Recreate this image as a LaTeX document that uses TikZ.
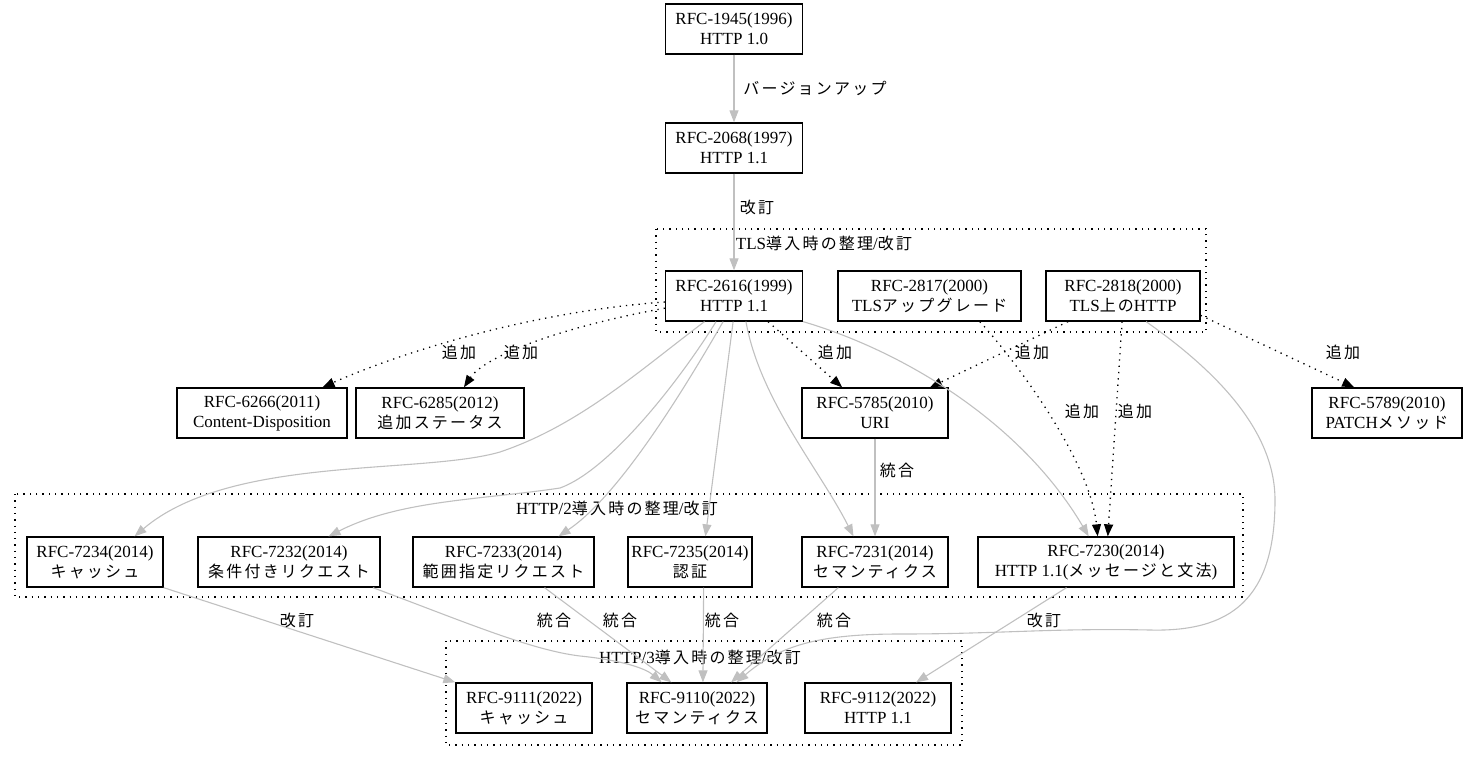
\documentclass[tikz,border=0pt]{standalone}
\usepackage{fontspec}
\setmainfont{Liberation Serif}
\newfontfamily\jp[Scale=0.94,LetterSpace=14]{Noto Sans CJK JP}
\usetikzlibrary{arrows.meta}
\definecolor{edgegray}{HTML}{C0C0C0}

\begin{document}
\begin{tikzpicture}[
  x=1pt, y=-1pt,
  font=\fontsize{17}{20}\selectfont,
  rfc/.style={draw,line width=1.3pt,minimum height=50pt,inner sep=0pt,align=center},
  note/.style={inner sep=1pt},
  cluster/.style={line width=1.3pt,dash pattern=on 1.3pt off 5pt},
  revise/.style={draw=edgegray,line width=1.1pt,-{Triangle[length=12pt,width=9pt]}},
  extend/.style={draw=black,line width=1.3pt,dash pattern=on 1.3pt off 5pt,-{Triangle[length=12pt,width=9pt]}}
]
  \useasboundingbox (0,0) rectangle (1469,760);

  % groups
  \draw[cluster] (656,229) rectangle (1206,332);
  \node[note] (tls-title) at (824,243) {TLS{\jp 導入時の整理}/{\jp 改訂}};
  \draw[cluster] (15,494) rectangle (1243,597);
  \node[note] (h2-title) at (617,508) {HTTP/2{\jp 導入時の整理}/{\jp 改訂}};
  \draw[cluster] (446,641) rectangle (962,745);
  \node[note] (h3-title) at (700,657) {HTTP/3{\jp 導入時の整理}/{\jp 改訂}};

  % documents
  \node[rfc,minimum width=137pt] (rfc-1945) at (734,29) {RFC-1945(1996)\\HTTP 1.0};
  \node[rfc,minimum width=137pt] (rfc-2068) at (734,148) {RFC-2068(1997)\\HTTP 1.1};
  \node[rfc,minimum width=137pt] (rfc-2616) at (734,296) {RFC-2616(1999)\\HTTP 1.1};
  \node[rfc,minimum width=183pt] (rfc-2817) at (929.5,296) {RFC-2817(2000)\\TLS{\jp アップグレード}};
  \node[rfc,minimum width=154pt] (rfc-2818) at (1123,296) {RFC-2818(2000)\\TLS{\jp 上の}HTTP};

  \node[rfc,minimum width=170pt] (rfc-6266) at (262,413) {RFC-6266(2011)\\Content-Disposition};
  \node[rfc,minimum width=168pt] (rfc-6285) at (440,413) {RFC-6285(2012)\\{\jp 追加ステータス}};
  \node[rfc,minimum width=146pt] (rfc-5785) at (875,413) {RFC-5785(2010)\\URI};
  \node[rfc,minimum width=150pt] (rfc-5789) at (1387,413) {RFC-5789(2010)\\PATCH{\jp メソッド}};

  \node[rfc,minimum width=136pt] (rfc-7234) at (95,562) {RFC-7234(2014)\\{\jp キャッシュ}};
  \node[rfc,minimum width=182pt] (rfc-7232) at (289,562) {RFC-7232(2014)\\{\jp 条件付きリクエスト}};
  \node[rfc,minimum width=181pt] (rfc-7233) at (503.5,562) {RFC-7233(2014)\\{\jp 範囲指定リクエスト}};
  \node[rfc,minimum width=124pt] (rfc-7235) at (690,562) {RFC-7235(2014)\\{\jp 認証}};
  \node[rfc,minimum width=146pt] (rfc-7231) at (875,562) {RFC-7231(2014)\\{\jp セマンティクス}};
  \node[rfc,minimum width=256pt] (rfc-7230) at (1106,562) {RFC-7230(2014)\\HTTP 1.1({\jp メッセージと文法})};

  \node[rfc,minimum width=136pt] (rfc-9111) at (524,708) {RFC-9111(2022)\\{\jp キャッシュ}};
  \node[rfc,minimum width=140pt] (rfc-9110) at (697,708) {RFC-9110(2022)\\{\jp セマンティクス}};
  \node[rfc,minimum width=146pt] (rfc-9112) at (878,708) {RFC-9112(2022)\\HTTP 1.1};

  % revisions
  \draw[revise] (rfc-1945) -- (rfc-2068);
  \node[note] (lbl-up) at (815,88) {{\jp バージョンアップ}};
  \draw[revise] (rfc-2068) -- (rfc-2616);
  \node[note] (lbl-rev1) at (757,207) {{\jp 改訂}};

  % additions
  \draw[extend] (rfc-2616.185) .. controls +(-120,8) and +(90,-40) .. (rfc-6266.23);
  \node[note] (lbl-add1) at (459,352) {{\jp 追加}};
  \draw[extend] (rfc-2616.190) .. controls +(-110,20) and +(20,-30) .. (rfc-6285.47);
  \node[note] (lbl-add2) at (521,352) {{\jp 追加}};
  \draw[extend] (rfc-2616.-37) -- (rfc-5785.142);
  \node[note] (lbl-add3) at (835,352) {{\jp 追加}};
  \draw[extend] (rfc-2818.-155) -- (rfc-5785.25);
  \node[note] (lbl-add4) at (1032,352) {{\jp 追加}};
  \draw[extend] (rfc-2818.-14) -- (rfc-5789.142);
  \node[note] (lbl-add5) at (1343,352) {{\jp 追加}};
  \draw[extend] (rfc-2817.-27) .. controls (1015,360) and (1090,460) .. (rfc-7230.108);
  \node[note] (lbl-add6) at (1082,411) {{\jp 追加}};
  \draw[extend] (rfc-2818.-92) -- (rfc-7230.86);
  \node[note] (lbl-add7) at (1135,411) {{\jp 追加}};

  % HTTP/2 split
  \draw[revise] (rfc-2616.-139) .. controls (640,370) and (580,425) .. (500,452)
    .. controls (420,475) and (230,455) .. (rfc-7234.33);
  \draw[revise] (rfc-2616.-125) .. controls (680,380) and (610,470) .. (560,488)
    .. controls (480,500) and (400,500) .. (rfc-7232.33);
  \draw[revise] (rfc-2616.-113) .. controls (678,400) and (617,497) .. (rfc-7233.25);
  \draw[revise] (rfc-2616.-92) -- (rfc-7235.59);
  \draw[revise] (rfc-2616.-65) .. controls (760,400) and (820,470) .. (rfc-7231.130);
  \draw[revise] (rfc-2616.south east) .. controls (900,350) and (1020,420) .. (rfc-7230.124);
  \draw[revise] (rfc-5785) -- (rfc-7231);
  \node[note] (lbl-mrg1) at (897,470) {{\jp 統合}};

  % HTTP/3 split
  \draw[revise] (rfc-7234.south east) -- (rfc-9111.north west);
  \node[note] (lbl-rev2) at (297,620) {{\jp 改訂}};
  \draw[revise] (rfc-7232.-17) .. controls (460,620) and (530,650) .. (580,656)
    .. controls (620,660) and (645,668) .. (rfc-9110.144);
  \node[note] (lbl-mrg2) at (554,620) {{\jp 統合}};
  \draw[revise] (rfc-7233.-32) -- (rfc-9110.135);
  \node[note] (lbl-mrg3) at (620,620) {{\jp 統合}};
  \draw[revise] (rfc-7235.-62) -- (rfc-9110.77);
  \node[note] (lbl-mrg4) at (722,620) {{\jp 統合}};
  \draw[revise] (rfc-7231.-145) -- (rfc-9110.37);
  \node[note] (lbl-mrg5) at (834,620) {{\jp 統合}};
  \draw[revise] (rfc-2818.-48) .. controls (1215,370) and (1275,430) .. (1275,500)
    .. controls (1275,600) and (1230,632) .. (1150,630)
    .. controls (1050,628) and (1000,634) .. (900,634)
    .. controls (820,634) and (780,645) .. (rfc-9110.33);
  \draw[revise] (rfc-7230.-147) -- (rfc-9112.34);
  \node[note] (lbl-rev3) at (1044,620) {{\jp 改訂}};
\end{tikzpicture}
\end{document}
